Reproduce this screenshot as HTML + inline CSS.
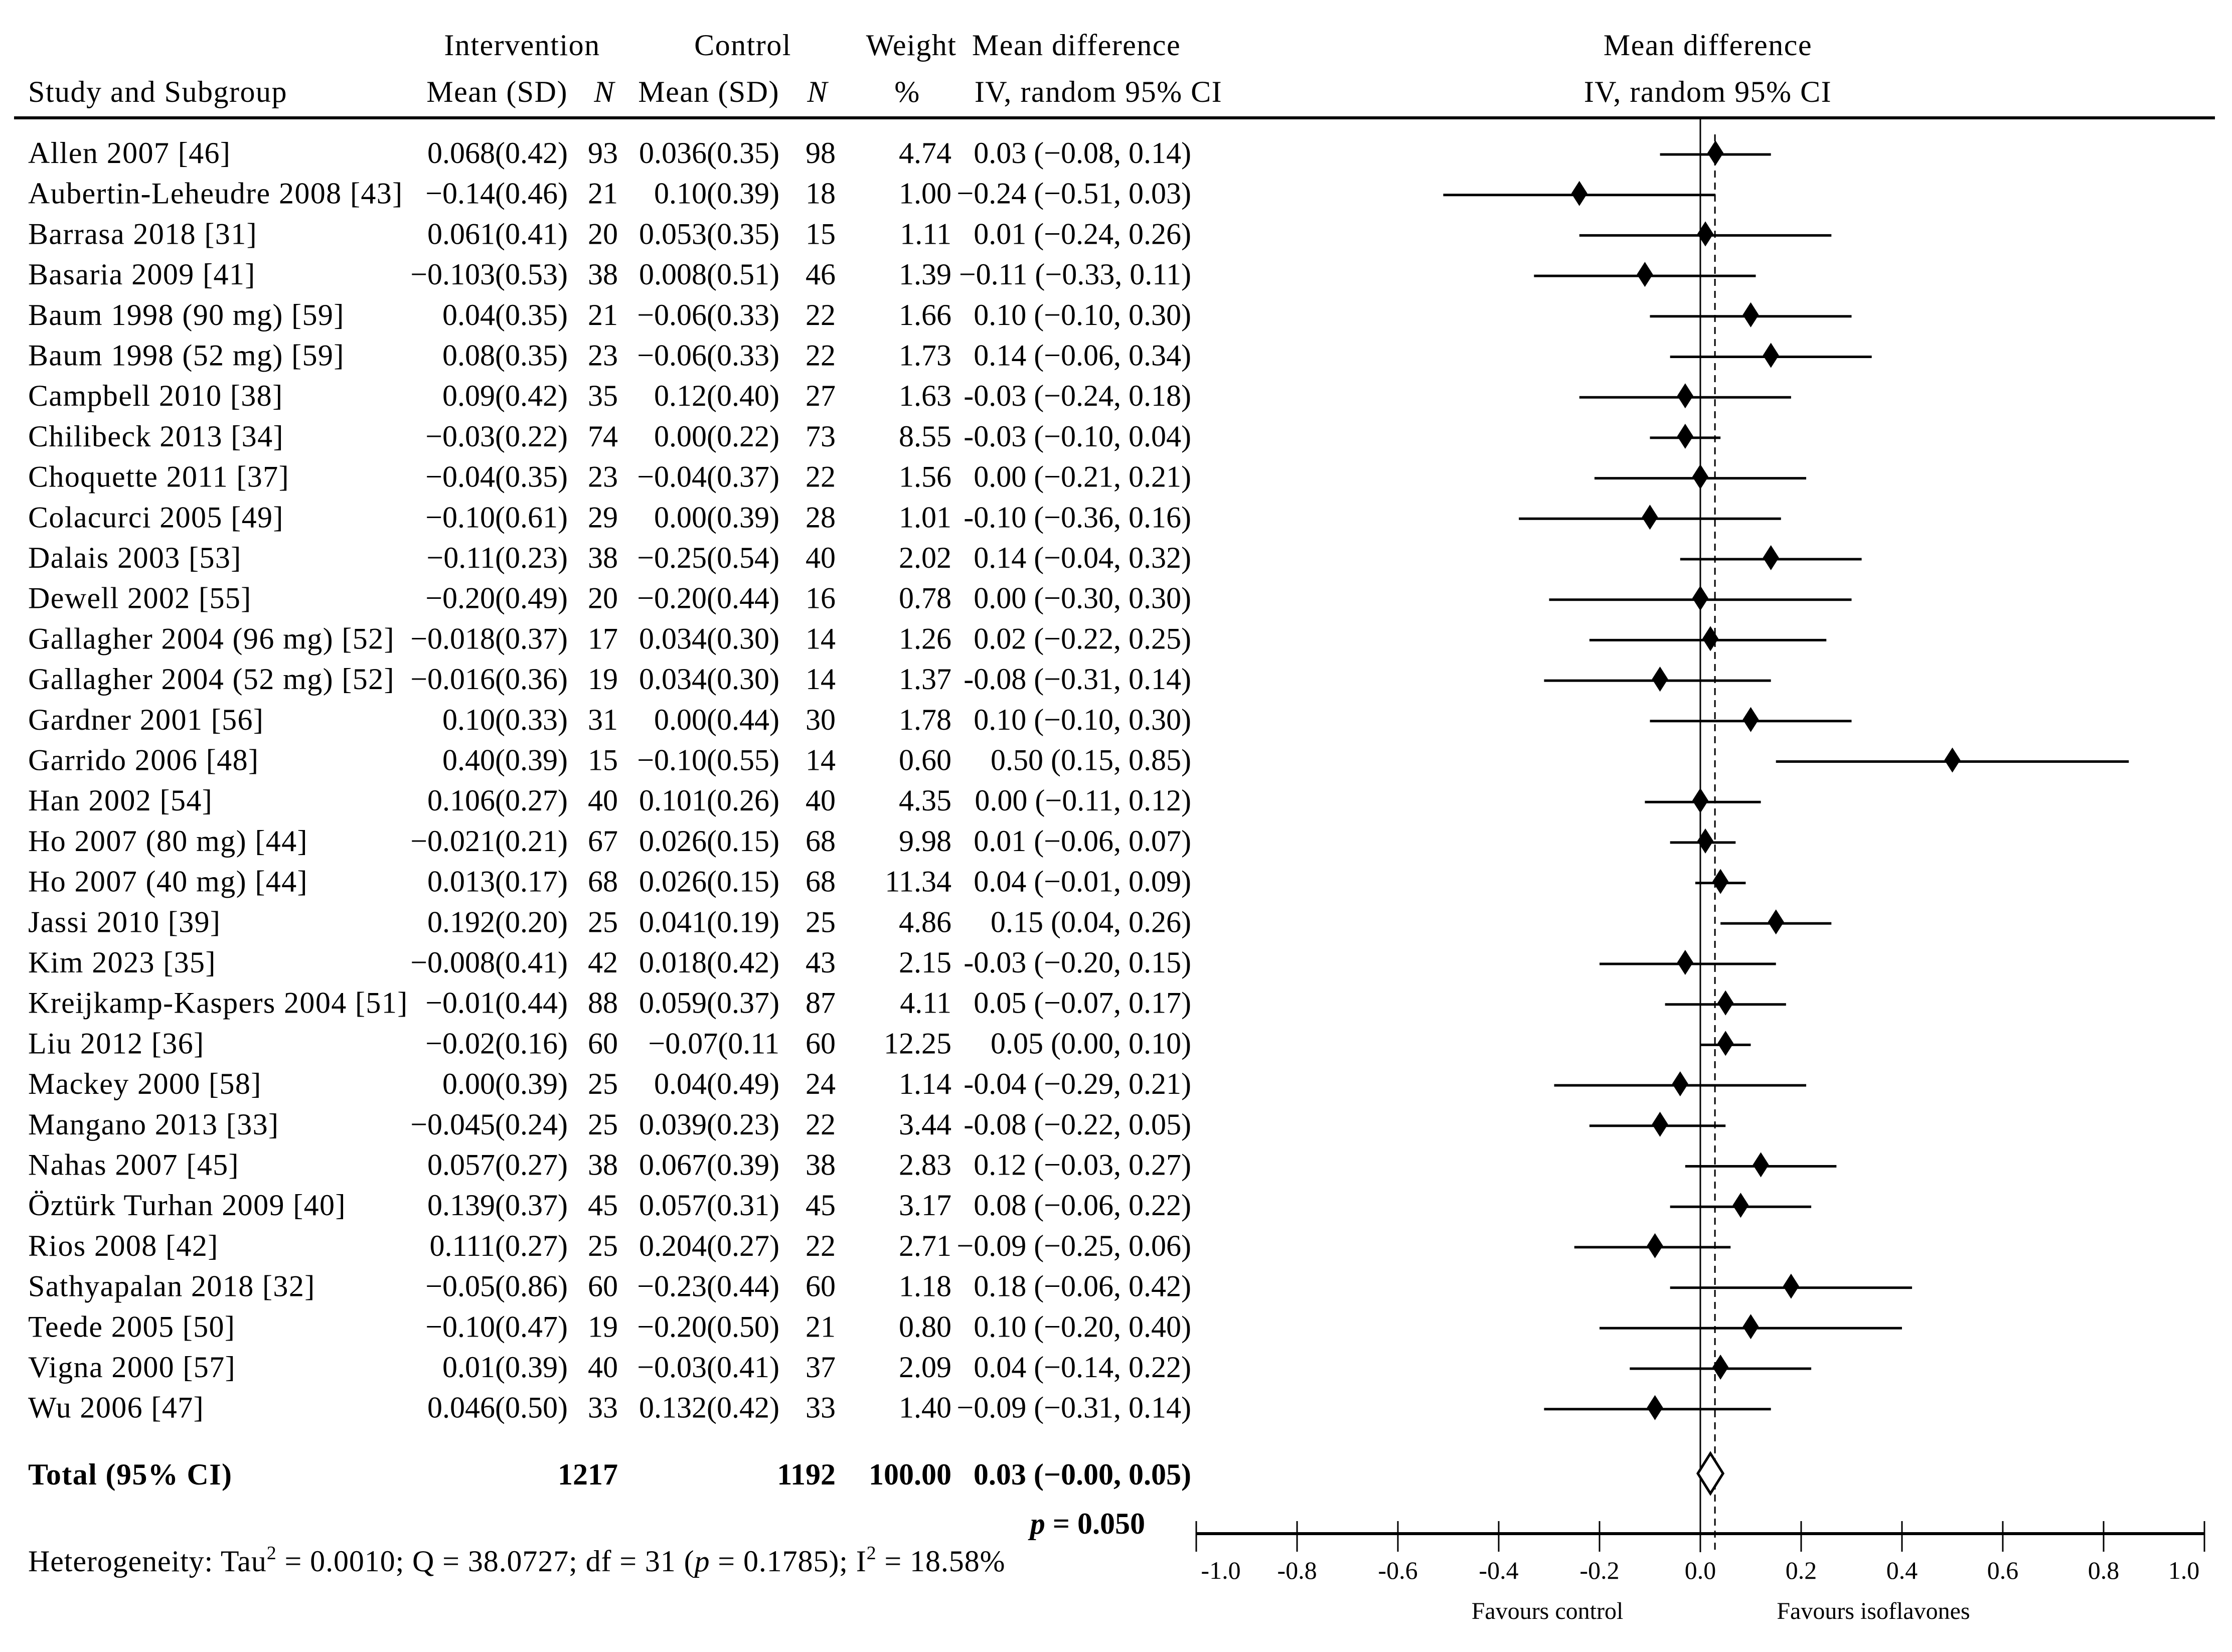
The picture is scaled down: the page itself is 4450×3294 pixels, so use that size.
<!DOCTYPE html>
<html><head><meta charset="utf-8">
<style>
html,body{margin:0;padding:0;background:#fff;}
svg{display:block;}
text{font-family:"Liberation Serif",serif;fill:#000;}
</style></head>
<body>
<svg id="chart" xmlns="http://www.w3.org/2000/svg" width="4450" height="3294" viewBox="0 0 4450 3294">
<rect x="0" y="0" width="4450" height="3294" fill="#fff"/>
<g font-size="60" letter-spacing="1.5">
<text x="1041" y="110" text-anchor="middle">Intervention</text>
<text x="1481" y="110" text-anchor="middle">Control</text>
<text x="1817" y="110" text-anchor="middle">Weight</text>
<text x="2146" y="110" text-anchor="middle">Mean difference</text>
<text x="3405" y="110" text-anchor="middle">Mean difference</text>
<text x="56" y="203">Study and Subgroup</text>
<text x="1132" y="203" text-anchor="end">Mean (SD)</text>
<text x="1205" y="203" text-anchor="middle" font-style="italic">N</text>
<text x="1554" y="203" text-anchor="end">Mean (SD)</text>
<text x="1630" y="203" text-anchor="middle" font-style="italic">N</text>
<text x="1809" y="203" text-anchor="middle">%</text>
<text x="2190" y="203" text-anchor="middle">IV, random 95% CI</text>
<text x="3405" y="203" text-anchor="middle">IV, random 95% CI</text>
</g>
<line x1="28" y1="235" x2="4416" y2="235" stroke="#000" stroke-width="6"/>
<g id="rows"></g>
<g id="plot"></g>
<g font-size="60" font-weight="bold">
<text x="56" y="2960" letter-spacing="1.4">Total (95% CI)</text>
<text x="1232" y="2960" text-anchor="end">1217</text>
<text x="1666" y="2960" text-anchor="end">1192</text>
<text x="1897" y="2960" text-anchor="end">100.00</text>
<text x="2375" y="2960" text-anchor="end">0.03 (−0.00, 0.05)</text>
<text x="2283" y="3058" text-anchor="end"><tspan font-style="italic">p</tspan> = 0.050</text>
</g>
<text x="56" y="3133" font-size="60" letter-spacing="0.9">Heterogeneity: Tau<tspan dy="-24" font-size="38">2</tspan><tspan dy="24"> = 0.0010; Q = 38.0727; df = 31 (</tspan><tspan font-style="italic">p</tspan> = 0.1785); I<tspan dy="-24" font-size="38">2</tspan><tspan dy="24"> = 18.58%</tspan></text>
<text x="3085" y="3228" text-anchor="middle" font-size="48">Favours control</text>
<text x="3735" y="3228" text-anchor="middle" font-size="48">Favours isoflavones</text>
</svg>
<script>
const studies = ["Allen 2007 [46]","Aubertin-Leheudre 2008 [43]","Barrasa 2018 [31]","Basaria 2009 [41]","Baum 1998 (90 mg) [59]","Baum 1998 (52 mg) [59]","Campbell  2010 [38]","Chilibeck 2013 [34]","Choquette 2011 [37]","Colacurci 2005 [49]","Dalais 2003 [53]","Dewell  2002 [55]","Gallagher 2004 (96 mg) [52]","Gallagher 2004 (52 mg) [52]","Gardner 2001 [56]","Garrido 2006 [48]","Han 2002 [54]","Ho 2007 (80 mg) [44]","Ho 2007 (40 mg) [44]","Jassi 2010 [39]","Kim 2023 [35]","Kreijkamp-Kaspers 2004 [51]","Liu 2012 [36]","Mackey 2000 [58]","Mangano 2013 [33]","Nahas 2007 [45]","Öztürk Turhan 2009 [40]","Rios 2008 [42]","Sathyapalan 2018 [32]","Teede 2005 [50]","Vigna 2000 [57]","Wu 2006 [47]"];
const intMean = ["0.068(0.42)","−0.14(0.46)","0.061(0.41)","−0.103(0.53)","0.04(0.35)","0.08(0.35)","0.09(0.42)","−0.03(0.22)","−0.04(0.35)","−0.10(0.61)","−0.11(0.23)","−0.20(0.49)","−0.018(0.37)","−0.016(0.36)","0.10(0.33)","0.40(0.39)","0.106(0.27)","−0.021(0.21)","0.013(0.17)","0.192(0.20)","−0.008(0.41)","−0.01(0.44)","−0.02(0.16)","0.00(0.39)","−0.045(0.24)","0.057(0.27)","0.139(0.37)","0.111(0.27)","−0.05(0.86)","−0.10(0.47)","0.01(0.39)","0.046(0.50)"];
const intN = [93,21,20,38,21,23,35,74,23,29,38,20,17,19,31,15,40,67,68,25,42,88,60,25,25,38,45,25,60,19,40,33];
const ctlMean = ["0.036(0.35)","0.10(0.39)","0.053(0.35)","0.008(0.51)","−0.06(0.33)","−0.06(0.33)","0.12(0.40)","0.00(0.22)","−0.04(0.37)","0.00(0.39)","−0.25(0.54)","−0.20(0.44)","0.034(0.30)","0.034(0.30)","0.00(0.44)","−0.10(0.55)","0.101(0.26)","0.026(0.15)","0.026(0.15)","0.041(0.19)","0.018(0.42)","0.059(0.37)","−0.07(0.11","0.04(0.49)","0.039(0.23)","0.067(0.39)","0.057(0.31)","0.204(0.27)","−0.23(0.44)","−0.20(0.50)","−0.03(0.41)","0.132(0.42)"];
const ctlN = [98,18,15,46,22,22,27,73,22,28,40,16,14,14,30,14,40,68,68,25,43,87,60,24,22,38,45,22,60,21,37,33];
const weights = ["4.74","1.00","1.11","1.39","1.66","1.73","1.63","8.55","1.56","1.01","2.02","0.78","1.26","1.37","1.78","0.60","4.35","9.98","11.34","4.86","2.15","4.11","12.25","1.14","3.44","2.83","3.17","2.71","1.18","0.80","2.09","1.40"];
const md = [0.03,-0.24,0.01,-0.11,0.10,0.14,-0.03,-0.03,0.00,-0.10,0.14,0.00,0.02,-0.08,0.10,0.50,0.00,0.01,0.04,0.15,-0.03,0.05,0.05,-0.04,-0.08,0.12,0.08,-0.09,0.18,0.10,0.04,-0.09];
const ciLow = [-0.08,-0.51,-0.24,-0.33,-0.10,-0.06,-0.24,-0.10,-0.21,-0.36,-0.04,-0.30,-0.22,-0.31,-0.10,0.15,-0.11,-0.06,-0.01,0.04,-0.20,-0.07,0.00,-0.29,-0.22,-0.03,-0.06,-0.25,-0.06,-0.20,-0.14,-0.31];
const ciHigh = [0.14,0.03,0.26,0.11,0.30,0.34,0.18,0.04,0.21,0.16,0.32,0.30,0.25,0.14,0.30,0.85,0.12,0.07,0.09,0.26,0.15,0.17,0.10,0.21,0.05,0.27,0.22,0.06,0.42,0.40,0.22,0.14];
const mdText = ["0.03 (−0.08, 0.14)","−0.24 (−0.51, 0.03)","0.01 (−0.24, 0.26)","−0.11 (−0.33, 0.11)","0.10 (−0.10, 0.30)","0.14 (−0.06, 0.34)","-0.03 (−0.24, 0.18)","-0.03 (−0.10, 0.04)","0.00 (−0.21, 0.21)","-0.10 (−0.36, 0.16)","0.14 (−0.04, 0.32)","0.00 (−0.30, 0.30)","0.02 (−0.22, 0.25)","-0.08 (−0.31, 0.14)","0.10 (−0.10, 0.30)","0.50 (0.15, 0.85)","0.00 (−0.11, 0.12)","0.01 (−0.06, 0.07)","0.04 (−0.01, 0.09)","0.15 (0.04, 0.26)","-0.03 (−0.20, 0.15)","0.05 (−0.07, 0.17)","0.05 (0.00, 0.10)","-0.04 (−0.29, 0.21)","-0.08 (−0.22, 0.05)","0.12 (−0.03, 0.27)","0.08 (−0.06, 0.22)","−0.09 (−0.25, 0.06)","0.18 (−0.06, 0.42)","0.10 (−0.20, 0.40)","0.04 (−0.14, 0.22)","−0.09 (−0.31, 0.14)"];
const pooled = [0.02, -0.005, 0.045];
const pooledLine = [0.029];
const ticks = [-1.0,-0.8,-0.6,-0.4,-0.2,0.0,0.2,0.4,0.6,0.8,1.0];
const tickLabels = ["-1.0","-0.8","-0.6","-0.4","-0.2","0.0","0.2","0.4","0.6","0.8","1.0"];

const NS = "http://www.w3.org/2000/svg";
const X0 = 3390, XS = 1005;
function xs(v){ return X0 + v*XS; }
const Y0 = 305, DY = 80.7;
function ys(i){ return Y0 + i*DY; }
const AXIS_Y = 3058;
function mk(tag, attrs, parent){
  const e = document.createElementNS(NS, tag);
  for (const k in attrs) e.setAttribute(k, attrs[k]);
  parent.appendChild(e);
  return e;
}
const rowsG = document.getElementById('rows');
const plotG = document.getElementById('plot');

let zl = mk('line',{x1:xs(0),y1:238,x2:xs(0),y2:3095,stroke:'#000','stroke-width':3},plotG);


let dl = mk('line',{x1:xs(pooledLine[0]),y1:268,x2:xs(pooledLine[0]),y2:3095,stroke:'#000','stroke-width':3,'stroke-dasharray':'14,10'},plotG);



const cols = [[1132,'end'],[1232,'end'],[1554,'end'],[1666,'end'],[1897,'end'],[2375,'end']];
studies.forEach((s,i)=>{
  const y = ys(i);
  const g = mk('g',{},rowsG);
  
  
  const vals = [intMean[i], String(intN[i]), ctlMean[i], String(ctlN[i]), weights[i], mdText[i]];
  let t = mk('text',{x:56,y:y+20,'font-size':60,'letter-spacing':1.4},g);
  t.textContent = s;
  
  
  vals.forEach((v,j)=>{
    const c = mk('text',{x:cols[j][0],y:y+20,'font-size':60,'text-anchor':cols[j][1]},g);
    c.textContent = v;
    
    
  });
  const ci = mk('line',{x1:xs(ciLow[i]),y1:y+3,x2:xs(ciHigh[i]),y2:y+3,stroke:'#000','stroke-width':5},plotG);
  
  
  const cx = xs(md[i]);
  const d = mk('polygon',{points:`${cx},${y-25} ${cx+16},${y} ${cx},${y+25} ${cx-16},${y}`,fill:'#000'},plotG);
  
  
});

const py = 2938;
const pd = mk('polygon',{points:`${xs(pooled[1])},${py} ${xs(pooled[0])},${py-40} ${xs(pooled[2])},${py} ${xs(pooled[0])},${py+40}`,fill:'#fff',stroke:'#000','stroke-width':5},plotG);



const ax = mk('line',{x1:xs(-1),y1:AXIS_Y,x2:xs(1),y2:AXIS_Y,stroke:'#000','stroke-width':6},plotG);


ticks.forEach((v,i)=>{
  const tk = mk('line',{x1:xs(v),y1:3033,x2:xs(v),y2:3094,stroke:'#000','stroke-width':3},plotG);
  
  
  let off = 0;
  if (i === 0) off = 49;
  if (i === ticks.length-1) off = -41;
  const tl = mk('text',{x:xs(v)+off,y:3148,'font-size':50,'text-anchor':'middle'},plotG);
  tl.textContent = tickLabels[i];
  
  
});
</script>
</body></html>
